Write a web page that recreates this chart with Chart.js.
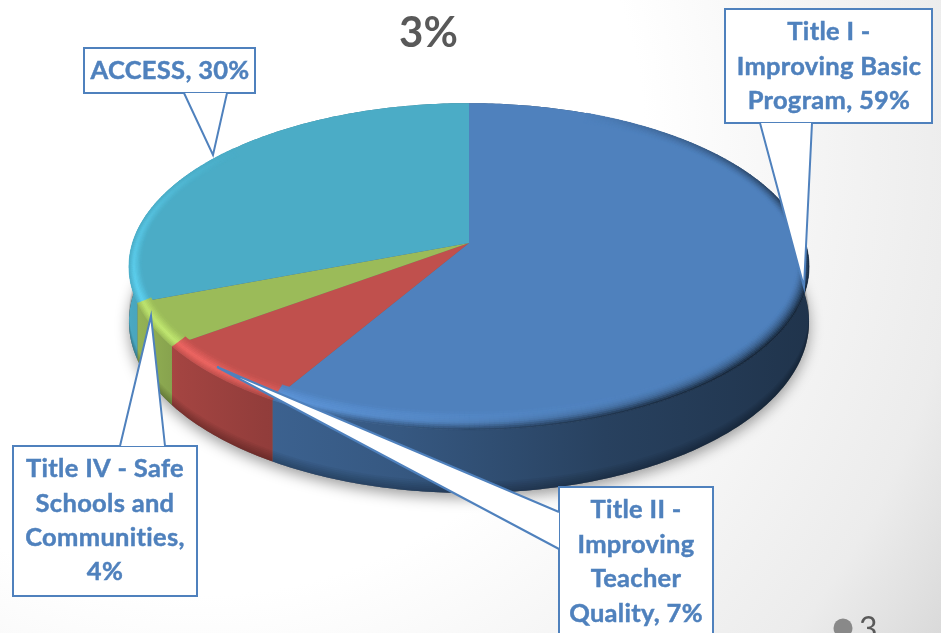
<!DOCTYPE html>
<html>
<head>
<meta charset="utf-8">
<script src="https://cdn.jsdelivr.net/npm/chart.js@4/dist/chart.umd.js"></script>
<style>
html,body{margin:0;padding:0;background:#fff;overflow:hidden}
#wrap{position:relative;width:941px;height:633px}
canvas{display:block}
</style>
</head>
<body>
<div id="wrap"><canvas id="c" width="941" height="633"></canvas></div>
<script>
const categories = ["Title I - Improving Basic Program", "Title II - Improving Teacher Quality", "Title IV - Safe Schools and Communities", "ACCESS"];
const values = [59, 7, 4, 30];
const sliceColors = ["#4f81bd", "#c0504d", "#9bbb59", "#4bacc6"];
const calloutLines = [
  ["Title I -", "Improving Basic", "Program, 59%"],
  ["Title II -", "Improving", "Teacher", "Quality, 7%"],
  ["Title IV - Safe", "Schools and", "Communities,", "4%"],
  ["ACCESS, 30%"]
];
const chartTitle = "3%";
const slideNumber = "3";

// ---- view geometry and styling (not data) ----
const view = {cx: 469, cy: 243, rx: 336.5, ry: 160, k: 0.144, depth: 54};
const boxes = [
  {x: 725, y: 9, w: 207, h: 114, textX: 829, textY: [32, 67, 101],
   pointer: [[760,123],[804,287],[812,123]]},
  {x: 559, y: 487, w: 154, h: 160, textX: 636, textY: [510, 545, 579, 614],
   pointer: [[559,512],[217,367],[559,549]]},
  {x: 13, y: 446, w: 184, h: 150, textX: 105, textY: [469, 504, 538, 572],
   pointer: [[120,446],[151,316],[165,446]]},
  {x: 84, y: 48, w: 171, h: 45, textX: 170, textY: [71],
   pointer: [[184,93],[213,155],[227,93]]}
];
const wallShade = [[-1,.98],[-.85,.85],[-.6,.76],[-.2,.68],[.4,.5],[1,.4]];
const LABEL_FONT = "bold 25.5px Lato, sans-serif";
const BLUE = "#4f81bd";

// the camera of the 3-D view compresses angles slightly in the lower-left quadrant
function viewAngle(a){
  const q=Math.PI/2;
  if(a<=q||a>=2*q) return a;
  const t=(a-q)/q;
  return a-0.065*Math.pow(Math.sin(Math.PI*Math.pow(t,1.6)),1.5);
}
function project(px, py, z) {
  const w = 1 - view.k * py;
  return [view.cx + view.rx * px / w, view.cy + (view.ry * py + view.depth * (z || 0)) / w];
}
function rgb(hex){return [1,3,5].map(i=>parseInt(hex.substr(i,2),16));}
function css(c){return `rgb(${c.map(v=>Math.max(0,Math.min(255,Math.round(v)))).join(",")})`;}
function clamp(v,a,b){return Math.max(a,Math.min(b,v));}
function quad(ctx,a,b,c,d,fill){
  ctx.fillStyle=fill;ctx.strokeStyle=fill;ctx.lineWidth=.6;
  ctx.beginPath();ctx.moveTo(a[0],a[1]);ctx.lineTo(b[0],b[1]);ctx.lineTo(c[0],c[1]);ctx.lineTo(d[0],d[1]);ctx.closePath();
  ctx.fill();ctx.stroke();
}
function bandPath(ctx,a0,a1,z0,z1,step){
  ctx.beginPath();
  const pts=[];
  for(let a=a0;a<a1;a+=step) pts.push(a);
  pts.push(a1);
  pts.forEach((a,i)=>{const p=project(Math.cos(a),Math.sin(a),z0);i?ctx.lineTo(p[0],p[1]):ctx.moveTo(p[0],p[1]);});
  pts.reverse().forEach(a=>{const p=project(Math.cos(a),Math.sin(a),z1);ctx.lineTo(p[0],p[1]);});
  ctx.closePath();
}

const pie3d = {
  id: "pie3d",
  beforeDraw(chart){
    const ctx=chart.ctx;
    const g=ctx.createRadialGradient(200,150,0,200,150,890);
    g.addColorStop(0,"#ffffff");g.addColorStop(.5,"#ffffff");g.addColorStop(.72,"#f3f3f3");g.addColorStop(.86,"#ececec");g.addColorStop(1,"#d9d9d9");
    ctx.save();ctx.fillStyle=g;ctx.fillRect(0,0,chart.width,chart.height);ctx.restore();
  },
  beforeDatasetsDraw(chart){
    const ctx=chart.ctx;
    const arcs=chart.getDatasetMeta(0).data.map(e=>({startAngle:viewAngle(e.startAngle),endAngle:viewAngle(e.endAngle)}));
    const step=Math.PI/240;
    ctx.save();
    // soft shadow under the disc
    ctx.save();
    ctx.shadowColor="rgba(0,0,0,.38)";ctx.shadowBlur=14;ctx.shadowOffsetY=5;ctx.fillStyle="#666";
    ctx.beginPath();
    for(let a=0;a<Math.PI*2;a+=step*2){const p=project(Math.cos(a),Math.sin(a),1);a===0?ctx.moveTo(p[0],p[1]):ctx.lineTo(p[0],p[1]);}
    ctx.closePath();ctx.fill();ctx.restore();
    // side wall: horizontal gradient per slice, darkened toward the bottom edge
    arcs.forEach((arc,i)=>{
      const base=rgb(sliceColors[i]);
      const g=ctx.createLinearGradient(view.cx-340,0,view.cx+340,0);
      wallShade.forEach(s=>g.addColorStop((s[0]+1)/2,css(base.map(c=>c*s[1]))));
      ctx.fillStyle=g;
      bandPath(ctx,arc.startAngle,arc.endAngle,0,1,step);
      ctx.fill();
      const bands=6;
      for(let r=0;r<bands;r++){
        const z0=.82+.18*r/bands;
        ctx.fillStyle="rgba(0,0,0,.045)";
        bandPath(ctx,arc.startAngle,arc.endAngle,z0,1,step);
        ctx.fill();
      }
    });
    // top face
    arcs.forEach((arc,i)=>{
      ctx.fillStyle=sliceColors[i];
      ctx.beginPath();
      const c=project(0,0,0);ctx.moveTo(c[0],c[1]);
      for(let a=arc.startAngle;a<arc.endAngle;a+=step){const p=project(Math.cos(a),Math.sin(a),0);ctx.lineTo(p[0],p[1]);}
      const e=project(Math.cos(arc.endAngle),Math.sin(arc.endAngle),0);ctx.lineTo(e[0],e[1]);
      ctx.closePath();ctx.fill();
    });
    // bevel along the rim
    const rings=10;
    const ringPt=(a,s)=>project(Math.cos(a)*(1-.036*s),Math.sin(a)*(1-.085*s),0);
    arcs.forEach((arc,i)=>{
      const base=rgb(sliceColors[i]);
      const hi=base.map(c=>c*1.24+6);
      for(let a=arc.startAngle;a<arc.endAngle-1e-6;a+=step){
        const b=Math.min(a+step,arc.endAngle),u=Math.cos(a),v=Math.sin(a);
        const lit=clamp(-.5*u+.75*v+.1,0,.9);
        const dark=clamp(.55*u+.35*v+.12,0,.85);
        if(lit<.01&&dark<.01) continue;
        for(let r=0;r<rings;r++){
          const s0=r/rings,s1=(r+1)/rings,s=(s0+s1)/2;
          const bump=s<.4?s/.4:(1-s)/.6;
          const dk=dark*Math.pow(1-s,1.6);
          const col=base.map((c,k)=>(c+(hi[k]-c)*lit*bump)*(1-dk));
          quad(ctx,ringPt(a,s0),ringPt(b,s0),ringPt(b,s1),ringPt(a,s1),css(col));
        }
      }
    });
    ctx.restore();
    return false;
  },
  afterDraw(chart){
    const ctx=chart.ctx;
    ctx.save();
    // callouts
    boxes.forEach((b,i)=>{
      ctx.fillStyle="#fff";ctx.strokeStyle=BLUE;ctx.lineWidth=2;ctx.lineJoin="miter";
      ctx.beginPath();ctx.rect(b.x,b.y,b.w,b.h);ctx.fill();ctx.stroke();
      ctx.beginPath();
      b.pointer.forEach((p,j)=>j?ctx.lineTo(p[0],p[1]):ctx.moveTo(p[0],p[1]));
      ctx.closePath();ctx.fill();
      ctx.beginPath();
      b.pointer.forEach((p,j)=>j?ctx.lineTo(p[0],p[1]):ctx.moveTo(p[0],p[1]));
      ctx.stroke();
      ctx.fillStyle=BLUE;ctx.strokeStyle=BLUE;ctx.lineWidth=.45;ctx.font=LABEL_FONT;ctx.textAlign="center";ctx.textBaseline="middle";
      ctx.letterSpacing="0.3px";
      calloutLines[i].forEach((t,j)=>{ctx.fillText(t,b.textX,b.textY[j]);ctx.strokeText(t,b.textX,b.textY[j]);});
      ctx.letterSpacing="0px";
    });
    // slide number
    ctx.fillStyle="#898989";ctx.beginPath();ctx.arc(843,628,9.5,0,Math.PI*2);ctx.fill();
    ctx.fillStyle="#595959";ctx.font="32px Lato, sans-serif";ctx.textAlign="left";ctx.textBaseline="alphabetic";
    ctx.fillText(slideNumber,859,640);
    ctx.restore();
  }
};

new Chart(document.getElementById("c"),{
  type:"pie",
  data:{labels:categories,datasets:[{data:values,backgroundColor:sliceColors,borderWidth:0}]},
  options:{
    responsive:false,animation:false,
    layout:{padding:{right:84}},
    plugins:{
      legend:{display:false},tooltip:{enabled:false},
      title:{display:true,text:chartTitle,color:"#595959",font:{family:"Lato, sans-serif",size:42,weight:"bold"},padding:{top:8,bottom:0}}
    }
  },
  plugins:[pie3d]
});
</script>
</body>
</html>
